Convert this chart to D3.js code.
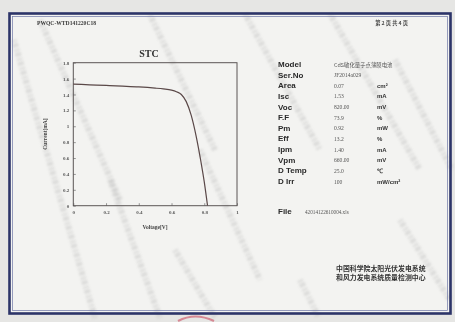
<!DOCTYPE html>
<html>
<head>
<meta charset="utf-8">
<script src="https://cdn.jsdelivr.net/npm/d3@7"></script>
<style>
  html, body { margin: 0; padding: 0; background: #e9e9e7; }
  svg { display: block; }
</style>
</head>
<body>
<svg id="sheet" width="455" height="322"></svg>
<script>
// I–V curve of the cell under standard test conditions
const voltage = [0, 0.1, 0.2, 0.3, 0.4, 0.5, 0.55, 0.6, 0.63, 0.66, 0.69, 0.72, 0.75, 0.78, 0.80, 0.82];
const current = [1.53, 1.522, 1.514, 1.505, 1.495, 1.48, 1.47, 1.455, 1.435, 1.40, 1.31, 1.14, 0.88, 0.55, 0.30, 0];

const xTicks = [0, 0.2, 0.4, 0.6, 0.8, 1];
const yTicks = [0, 0.2, 0.4, 0.6, 0.8, 1, 1.2, 1.4, 1.6, 1.8];

// Measurement summary
const tableLabels = ["Model", "Ser.No", "Area", "Isc", "Voc", "F.F", "Pm", "Eff", "Ipm", "Vpm", "D Temp", "D Irr"];
const tableValues = ["CdS敏化量子点薄膜电池", "JF2014a029", "0.07", "1.53", "820.00", "73.9", "0.92", "13.2", "1.40", "660.00", "25.0", "100"];
const tableUnits  = ["", "", "cm²", "mA", "mV", "%", "mW", "%", "mA", "mV", "℃", "mW/cm²"];

const docCode = "PWQC-WTD141220C18";
const pageText = "第 2 页  共 4 页";
const fileName = "42014122610004.xls";
const issuer = ["中国科学院太阳光伏发电系统", "和风力发电系统质量检测中心"];

const svg = d3.select("#sheet");

const defs = svg.append("defs");
defs.append("filter").attr("id", "soft").append("feGaussianBlur").attr("stdDeviation", 1.2);

// paper
svg.append("rect").attr("x", 0).attr("y", 0).attr("width", 455).attr("height", 322).attr("fill", "#e6e6e4");
svg.append("rect").attr("x", 9).attr("y", 13).attr("width", 442).attr("height", 301).attr("fill", "#f3f3f1");

// faint diagonal security print on the paper
const streaks = [
  [14, 40, 95, 318], [40, 20, 120, 200], [150, 15, 215, 150], [245, 14, 320, 150],
  [330, 14, 420, 170], [395, 60, 452, 170], [175, 250, 215, 318], [300, 280, 318, 316],
  [400, 220, 450, 300], [110, 180, 160, 318], [200, 150, 260, 280]
];
svg.append("g").attr("filter", "url(#soft)").selectAll("line").data(streaks).join("line")
  .attr("x1", d => d[0]).attr("y1", d => d[1]).attr("x2", d => d[2]).attr("y2", d => d[3])
  .attr("stroke", "#a9a9a9").attr("stroke-width", 6).attr("stroke-dasharray", "2 1.5 4 2")
  .attr("opacity", 0.3);

// frame
svg.append("rect").attr("x", 9.5).attr("y", 13.5).attr("width", 441).attr("height", 300)
  .attr("fill", "none").attr("stroke", "#2c3468").attr("stroke-width", 2.6);
svg.append("rect").attr("x", 12.5).attr("y", 16.5).attr("width", 435).attr("height", 294)
  .attr("fill", "none").attr("stroke", "#6d76a6").attr("stroke-width", 0.7);

// red seal peeking under the bottom edge
svg.append("path")
  .attr("d", "M178,321 Q195,312 214,321")
  .attr("fill", "none").attr("stroke", "#d06a7a").attr("stroke-width", 2.2).attr("opacity", 0.75);

// header
svg.append("text").attr("x", 37).attr("y", 25).text(docCode)
  .attr("font-family", "Liberation Serif").attr("font-weight", "bold").attr("font-size", 5.6).attr("fill", "#3a3a3a");
svg.append("text").attr("x", 408).attr("y", 25).attr("text-anchor", "end").text(pageText)
  .attr("font-family", "Noto Sans CJK SC").attr("font-weight", "bold").attr("font-size", 5.2).attr("fill", "#4a4a4a");

// chart
const plot = { left: 73.3, right: 237, top: 62.7, bottom: 205.7 };
const x = d3.scaleLinear().domain([0, 1]).range([plot.left, plot.right]);
const y = d3.scaleLinear().domain([0, 1.8]).range([plot.bottom, plot.top]);

svg.append("text").attr("x", 149).attr("y", 57).attr("text-anchor", "middle").text("STC")
  .attr("font-family", "Liberation Serif").attr("font-weight", "bold").attr("font-size", 10).attr("fill", "#333");

const axisFont = g => g.selectAll("text")
  .attr("font-family", "Liberation Serif").attr("font-weight", "bold").attr("font-size", 5).attr("fill", "#555");

svg.append("g").attr("transform", `translate(0,${plot.bottom})`)
  .call(d3.axisBottom(x).tickValues(xTicks).tickFormat(d3.format("~g")).tickSize(-2.5).tickPadding(5))
  .call(g => g.select(".domain").remove())
  .call(g => g.selectAll("line").attr("stroke", "#555").attr("stroke-width", 0.6))
  .call(axisFont);

svg.append("g").attr("transform", `translate(${plot.left},0)`)
  .call(d3.axisLeft(y).tickValues(yTicks).tickFormat(d3.format("~g")).tickSize(-2.5).tickPadding(4))
  .call(g => g.select(".domain").remove())
  .call(g => g.selectAll("line").attr("stroke", "#555").attr("stroke-width", 0.6))
  .call(axisFont);

svg.append("rect").attr("x", plot.left).attr("y", plot.top)
  .attr("width", plot.right - plot.left).attr("height", plot.bottom - plot.top)
  .attr("fill", "none").attr("stroke", "#5b5555").attr("stroke-width", 1);

const ivPoints = voltage.map((v, i) => [v, current[i]]);
svg.append("path").datum(ivPoints)
  .attr("d", d3.line().x(d => x(d[0])).y(d => y(d[1])).curve(d3.curveMonotoneX))
  .attr("fill", "none").attr("stroke", "#5a4848").attr("stroke-width", 1.2);

svg.append("text").attr("x", 155).attr("y", 229).attr("text-anchor", "middle").text("Voltage[V]")
  .attr("font-family", "Liberation Serif").attr("font-weight", "bold").attr("font-size", 5.5).attr("fill", "#444");
svg.append("text").attr("transform", "translate(47,134) rotate(-90)").attr("text-anchor", "middle").text("Current[mA]")
  .attr("font-family", "Liberation Serif").attr("font-weight", "bold").attr("font-size", 5.5).attr("fill", "#444");

// data table
const rowY = d3.scaleLinear().domain([0, tableLabels.length - 1]).range([67, 184]);
const table = svg.append("g");
table.selectAll("text.lab").data(tableLabels).join("text").attr("class", "lab")
  .attr("x", 278).attr("y", (d, i) => rowY(i)).text(d => d)
  .attr("font-family", "Liberation Sans").attr("font-weight", 600).attr("font-size", 8).attr("fill", "#2a2a2a");
table.selectAll("text.val").data(tableValues).join("text").attr("class", "val")
  .attr("x", 334).attr("y", (d, i) => rowY(i) - 0.5).text(d => d)
  .attr("font-family", (d, i) => i === 0 ? "Noto Sans CJK SC" : "Liberation Serif")
  .attr("font-size", (d, i) => i === 0 ? 5.4 : 5.6).attr("fill", "#555");
table.selectAll("text.unit").data(tableUnits).join("text").attr("class", "unit")
  .attr("x", 377).attr("y", (d, i) => rowY(i) - 0.5).text(d => d)
  .attr("font-family", "Liberation Sans").attr("font-weight", "bold").attr("font-size", 6).attr("fill", "#333");

svg.append("text").attr("x", 278).attr("y", 214).text("File")
  .attr("font-family", "Liberation Sans").attr("font-weight", 600).attr("font-size", 8).attr("fill", "#2a2a2a");
svg.append("text").attr("x", 305).attr("y", 213.5).text(fileName)
  .attr("font-family", "Liberation Serif").attr("font-size", 5.2).attr("fill", "#555");

svg.append("g").selectAll("text").data(issuer).join("text")
  .attr("x", 336).attr("y", (d, i) => 271 + i * 9).text(d => d)
  .attr("font-family", "Noto Sans CJK SC").attr("font-weight", "bold").attr("font-size", 6.9).attr("fill", "#333");
</script>
</body>
</html>
